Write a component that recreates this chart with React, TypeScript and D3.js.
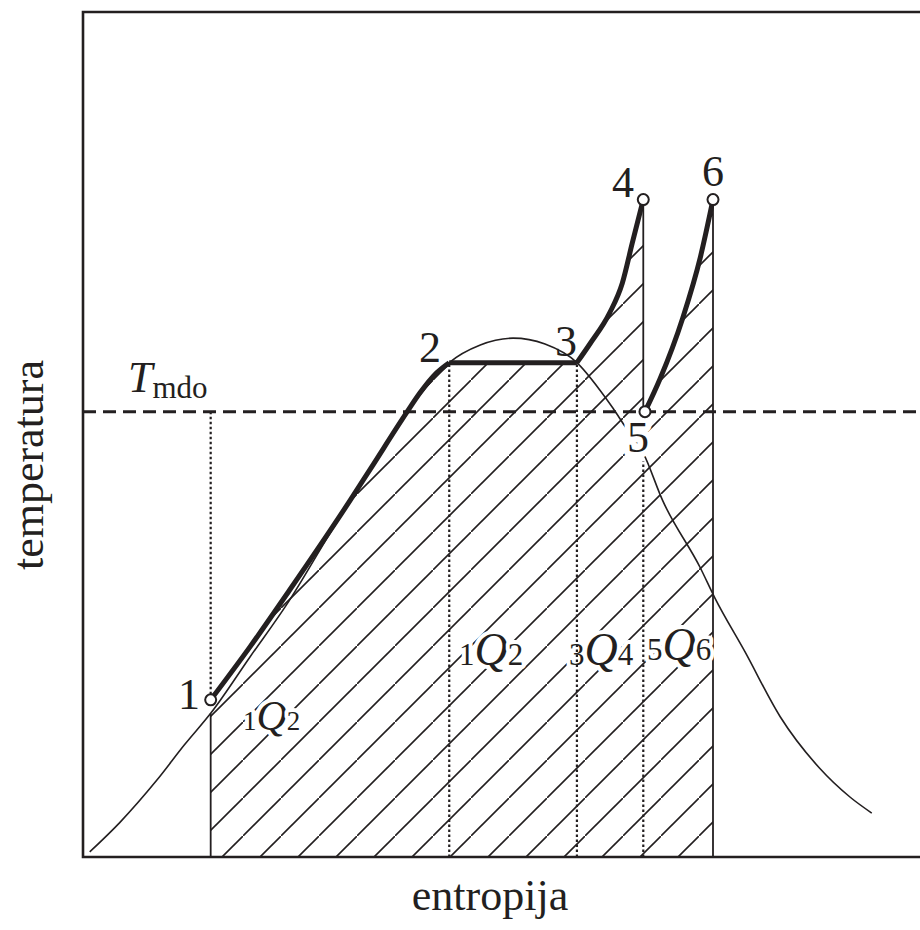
import { useEffect, useRef } from 'react'
import * as d3 from 'd3'

type Pt = [number, number]

// entropy s (arbitrary units), temperature T (arbitrary units)
const saturationDome: Pt[] = [
  [0.08, 6], [0.44, 41], [0.88, 91], [1.21, 133], [1.52, 170], [1.99, 237],
  [2.44, 301], [2.94, 383], [3.42, 459], [3.86, 527], [4.13, 561], [4.36, 585],
  [4.73, 606], [5.12, 614], [5.5, 607], [5.88, 585], [6.15, 553], [6.31, 531],
  [6.45, 510], [6.67, 478], [6.9, 422], [7.35, 342], [7.52, 307], [7.88, 243],
  [8.3, 166], [8.77, 105], [9.13, 71], [9.39, 52],
]

const process12: Pt[] = [
  [1.52, 186], [1.99, 249], [2.46, 316], [3.18, 422], [3.42, 459],
  [3.86, 527], [4.01, 549], [4.21, 573], [4.36, 585],
]
const process23: Pt[] = [[4.36, 585], [5.88, 585]]
const process34: Pt[] = [[5.88, 585], [6.04, 608], [6.27, 644], [6.42, 679], [6.54, 727], [6.67, 778]]
const process45: Pt[] = [[6.67, 778], [6.67, 527]]
const process56: Pt[] = [[6.69, 527], [6.87, 566], [7.14, 638], [7.35, 710], [7.5, 778]]

const stateNames = ['1', '2', '3', '4', '5', '6']
const stateS = [1.52, 4.36, 5.88, 6.67, 6.69, 7.5]
const stateT = [186, 585, 585, 778, 527, 778]

const Tmdo = 527
const domeAtS1 = 170

const INK = '#231f20'
const FONT = '"Liberation Serif", "Times New Roman", serif'

export default function App() {
  const ref = useRef<SVGSVGElement>(null)

  useEffect(() => {
    const svg = d3.select(ref.current)
    svg.selectAll('*').remove()

    const x = d3.scaleLinear().domain([0, 10]).range([83, 923])
    const y = d3.scaleLinear().domain([0, 1000]).range([857, 12])

    const curve = d3.line<Pt>().x(d => x(d[0])).y(d => y(d[1])).curve(d3.curveMonotoneX)
    const straight = d3.line<Pt>().x(d => x(d[0])).y(d => y(d[1]))

    // hatch pattern, 45 deg
    const defs = svg.append('defs')
    const pat = defs.append('pattern')
      .attr('id', 'hatch').attr('patternUnits', 'userSpaceOnUse')
      .attr('width', 38).attr('height', 38).attr('x', 15).attr('y', 0)
    pat.append('path')
      .attr('d', 'M-4,42 L42,-4')
      .attr('stroke', INK).attr('stroke-width', 1.6).attr('fill', 'none')

    // hatched area under the process path
    const cont = (p: Pt[]) => (curve(p) || '').replace(/^M/, 'L')
    const areaD = `M${x(stateS[0])},${y(0)}` + cont(process12) + cont(process23) + cont(process34) +
      `L${x(process45[1][0])},${y(process45[1][1])}` + cont(process56) +
      `L${x(stateS[5])},${y(0)}Z`
    svg.append('path').attr('d', areaD).attr('fill', 'url(#hatch)')

    // saturation dome
    svg.append('path').attr('d', curve(saturationDome))
      .attr('fill', 'none').attr('stroke', INK).attr('stroke-width', 1.6)

    // solid boundaries
    const thin = (p: Pt[]) => svg.append('path').attr('d', straight(p))
      .attr('fill', 'none').attr('stroke', INK).attr('stroke-width', 1.8)
    thin([[stateS[0], 0], [stateS[0], domeAtS1]])
    thin(process45)
    thin([[stateS[5], 0], [stateS[5], stateT[5]]])

    // frame
    svg.append('path')
      .attr('d', `M${x(10)},${y(1000)}H${x(0)}V${y(0)}H${x(10)}`)
      .attr('fill', 'none').attr('stroke', INK).attr('stroke-width', 2.6)

    // T_mdo dashed line
    svg.append('path').attr('d', straight([[0, Tmdo], [10, Tmdo]]))
      .attr('stroke', INK).attr('stroke-width', 3).attr('stroke-dasharray', '13 7')

    // thick process lines
    ;[process12, process23, process34, process56].forEach(p => {
      svg.append('path').attr('d', curve(p))
        .attr('fill', 'none').attr('stroke', INK).attr('stroke-width', 5)
        .attr('stroke-linecap', 'butt').attr('stroke-linejoin', 'round')
    })

    // heat labels
    const heat = [
      { pre: '1', post: '2', px: 243, py: 730, sub: 27, big: 42 },
      { pre: '1', post: '2', px: 459, py: 665, sub: 31, big: 46 },
      { pre: '3', post: '4', px: 569, py: 665, sub: 31, big: 46 },
      { pre: '5', post: '6', px: 647, py: 660, sub: 31, big: 46 },
    ]
    heat.forEach(h => {
      const t = svg.append('text').attr('x', h.px).attr('y', h.py)
        .attr('font-family', FONT).attr('fill', INK)
        .attr('stroke', 'white').attr('stroke-width', 8).attr('paint-order', 'stroke')
        .attr('stroke-linejoin', 'round')
      t.append('tspan').attr('font-size', h.sub).text(h.pre)
      t.append('tspan').attr('font-size', h.big).attr('font-style', 'italic').text('Q')
      t.append('tspan').attr('font-size', h.sub).text(h.post)
    })

    // dotted guide lines
    const dotted = (p: Pt[]) => svg.append('path').attr('d', straight(p))
      .attr('stroke', INK).attr('stroke-width', 2.2).attr('stroke-dasharray', '2.5 2.5')
    dotted([[stateS[0], Tmdo], [stateS[0], stateT[0]]])
    dotted([[stateS[1], 0], [stateS[1], stateT[1]]])
    dotted([[stateS[2], 0], [stateS[2], stateT[2]]])
    dotted([[stateS[3], 0], [stateS[3], 468]])

    // state labels
    const labelPos: Record<string, [number, number]> = {
      '1': [189, 709], '2': [430, 362], '3': [566, 356],
      '4': [623, 197], '5': [638, 452], '6': [713, 186],
    }
    stateNames.forEach(n => {
      const [lx, ly] = labelPos[n]
      svg.append('text').attr('x', lx).attr('y', ly)
        .attr('text-anchor', 'middle').attr('font-family', FONT).attr('font-size', 44)
        .attr('fill', INK)
        .attr('stroke', n === '5' ? 'white' : 'none').attr('stroke-width', 12)
        .attr('stroke-linejoin', 'round')
        .attr('paint-order', 'stroke')
        .text(n)
    })

    // state circles
    svg.selectAll('circle.state').data(stateS.map((s, i) => [s, stateT[i]] as Pt)).join('circle')
      .attr('class', 'state')
      .attr('cx', d => x(d[0])).attr('cy', d => y(d[1])).attr('r', 5.5)
      .attr('fill', 'white').attr('stroke', INK).attr('stroke-width', 2)
      .filter((_, i) => stateNames[i] === '2' || stateNames[i] === '3').remove()

    // T_mdo label
    const tm = svg.append('text').attr('x', 128).attr('y', 392)
      .attr('font-family', FONT).attr('fill', INK)
    tm.append('tspan').attr('font-size', 44).attr('font-style', 'italic').text('T')
    tm.append('tspan').attr('font-size', 31).attr('dy', 6).text('mdo')

    // axis titles
    svg.append('text').attr('x', 490).attr('y', 910).attr('text-anchor', 'middle')
      .attr('font-family', FONT).attr('font-size', 44).attr('fill', INK).text('entropija')
    svg.append('text').attr('transform', 'translate(43,465) rotate(-90)')
      .attr('text-anchor', 'middle')
      .attr('font-family', FONT).attr('font-size', 44).attr('fill', INK).text('temperatura')
  }, [])

  return (
    <svg ref={ref} width={920} height={930}
      style={{ position: 'absolute', left: 0, top: 0, background: 'white' }} />
  )
}
